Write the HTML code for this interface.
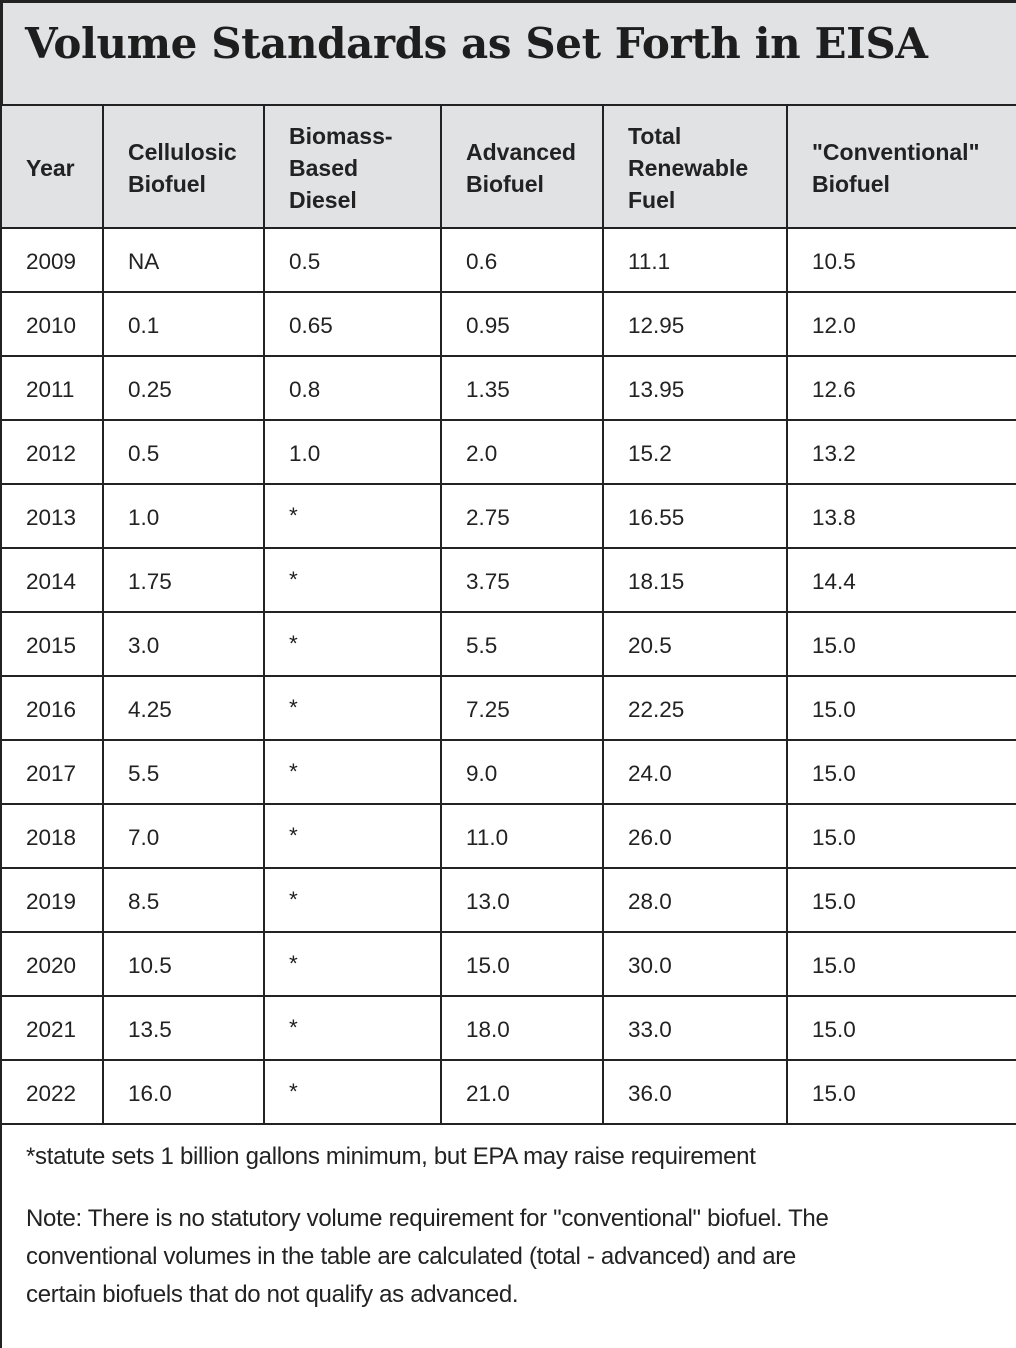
<!DOCTYPE html>
<html><head><style>
body{margin:0;background:#fff;width:1016px;height:1348px;position:relative;overflow:hidden;font-family:"Liberation Sans",sans-serif;color:#222}
.t{position:absolute;left:0;top:0;width:1016px;height:104px;background:#e1e2e4;border-top:3px solid #222;border-left:3px solid #222;box-sizing:border-box}
.t h1{margin:0;position:absolute;left:22px;top:16px;font-family:"DejaVu Serif",serif;font-weight:bold;font-size:42px;letter-spacing:-0.4px;color:#1e1e1e}
.hd{position:absolute;left:0;top:104px;width:1016px;height:124px;background:#e1e2e4}
.h{position:absolute;top:0;height:2px;background:#222;left:0;width:1016px}
.v{position:absolute;width:2px;background:#222;top:104px;height:1020px}
.c{position:absolute;font-size:22.5px;line-height:32px}
.b{font-weight:bold;font-size:23px}
.f{position:absolute;left:26px;font-size:24px;line-height:38px;letter-spacing:-0.3px}
</style></head><body>
<div class="t"><h1>Volume Standards as Set Forth in EISA</h1></div>
<div class="hd"></div>
<div class="v" style="left:0;height:1244px"></div>
<div class="v" style="left:102px"></div>
<div class="v" style="left:263px"></div>
<div class="v" style="left:440px"></div>
<div class="v" style="left:602px"></div>
<div class="v" style="left:786px"></div>
<div id="rows"></div>
<div class="c b" style="left:26px;top:152px">Year</div>
<div class="c b" style="left:128px;top:136px">Cellulosic<br>Biofuel</div>
<div class="c b" style="left:289px;top:120px">Biomass-<br>Based<br>Diesel</div>
<div class="c b" style="left:466px;top:136px">Advanced<br>Biofuel</div>
<div class="c b" style="left:628px;top:120px">Total<br>Renewable<br>Fuel</div>
<div class="c b" style="left:812px;top:136px">"Conventional"<br>Biofuel</div>
<div class="f" style="top:1138px">*statute sets 1 billion gallons minimum, but EPA may raise requirement</div>
<div class="f" style="top:1200px">Note: There is no statutory volume requirement for "conventional" biofuel. The<br>conventional volumes in the table are calculated (total - advanced) and are<br>certain biofuels that do not qualify as advanced.</div>
<script>
var d=[["2009","NA","0.5","0.6","11.1","10.5"],["2010","0.1","0.65","0.95","12.95","12.0"],["2011","0.25","0.8","1.35","13.95","12.6"],["2012","0.5","1.0","2.0","15.2","13.2"],["2013","1.0","*","2.75","16.55","13.8"],["2014","1.75","*","3.75","18.15","14.4"],["2015","3.0","*","5.5","20.5","15.0"],["2016","4.25","*","7.25","22.25","15.0"],["2017","5.5","*","9.0","24.0","15.0"],["2018","7.0","*","11.0","26.0","15.0"],["2019","8.5","*","13.0","28.0","15.0"],["2020","10.5","*","15.0","30.0","15.0"],["2021","13.5","*","18.0","33.0","15.0"],["2022","16.0","*","21.0","36.0","15.0"]];
var xs=[26,128,289,466,628,812],h='';
h+='<div class="h" style="top:104px"></div><div class="h" style="top:227px"></div>';
for(var i=0;i<d.length;i++){var y=228+i*64;h+='<div class="h" style="top:'+(y+63)+'px"></div>';
for(var j=0;j<6;j++)h+='<div class="c" style="left:'+xs[j]+'px;top:'+(y+(d[i][j]=="*"?16:18))+'px">'+d[i][j]+'</div>';}
document.getElementById('rows').innerHTML=h;
</script>
</body></html>
